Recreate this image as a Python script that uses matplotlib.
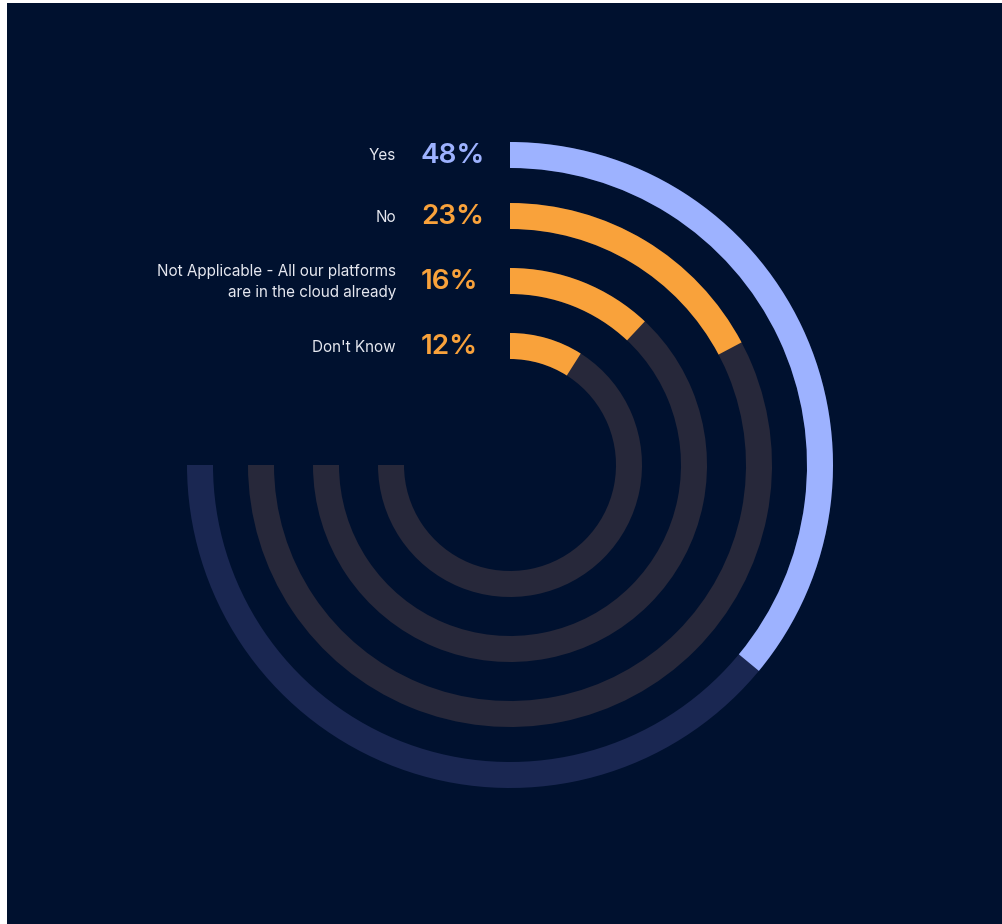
import matplotlib
matplotlib.use("Agg")
import matplotlib.pyplot as plt
from matplotlib.patches import Wedge, Rectangle

# survey answers, outer ring first
labels = ["Yes", "No", "Not Applicable - All our platforms\nare in the cloud already", "Don't Know"]
values = [48, 23, 16, 12]
bar_colors = ["#9db2ff", "#f9a23b", "#f9a23b", "#f9a23b"]
track_colors = ["#1a2752", "#27283a", "#27283a", "#27283a"]

W, H = 1002, 924
BG = "#00112f"
cx, cy = 510, H - 465
radii = [310, 249, 184, 119]   # ring centre lines, px
ring_w = 26
sweep = 270.0                  # full scale = three quarters of a circle

fig = plt.figure(figsize=(W / 100, H / 100), dpi=100, facecolor="white")
ax = fig.add_axes([0, 0, 1, 1])
ax.set_xlim(0, W)
ax.set_ylim(0, H)
ax.set_aspect("equal")
ax.axis("off")
ax.add_patch(Rectangle((7, 0), W - 7, H - 3, facecolor=BG, edgecolor="none"))

for r, v, c, tc in zip(radii, values, bar_colors, track_colors):
    outer = r + ring_w / 2
    # background track: from 12 o'clock clockwise round to 9 o'clock
    ax.add_patch(Wedge((cx, cy), outer, 180, 450, width=ring_w, facecolor=tc, edgecolor="none"))
    end = 90 - sweep * v / 100
    ax.add_patch(Wedge((cx, cy), outer, end, 90, width=ring_w, facecolor=c, edgecolor="none"))

plt.rcParams["font.family"] = ["Inter", "DejaVu Sans"]
for r, lab, v, c in zip(radii, labels, values, bar_colors):
    y = cy + r
    ax.text(396, y - 1, lab, ha="right", va="center", fontsize=11, color="#e6e8f0",
            linespacing=1.55)
    ax.text(421, y - 1, f"{v}%", ha="left", va="center", fontsize=20, color=c,
            fontweight="semibold")

fig.savefig("out.png", dpi=100, facecolor="white")
